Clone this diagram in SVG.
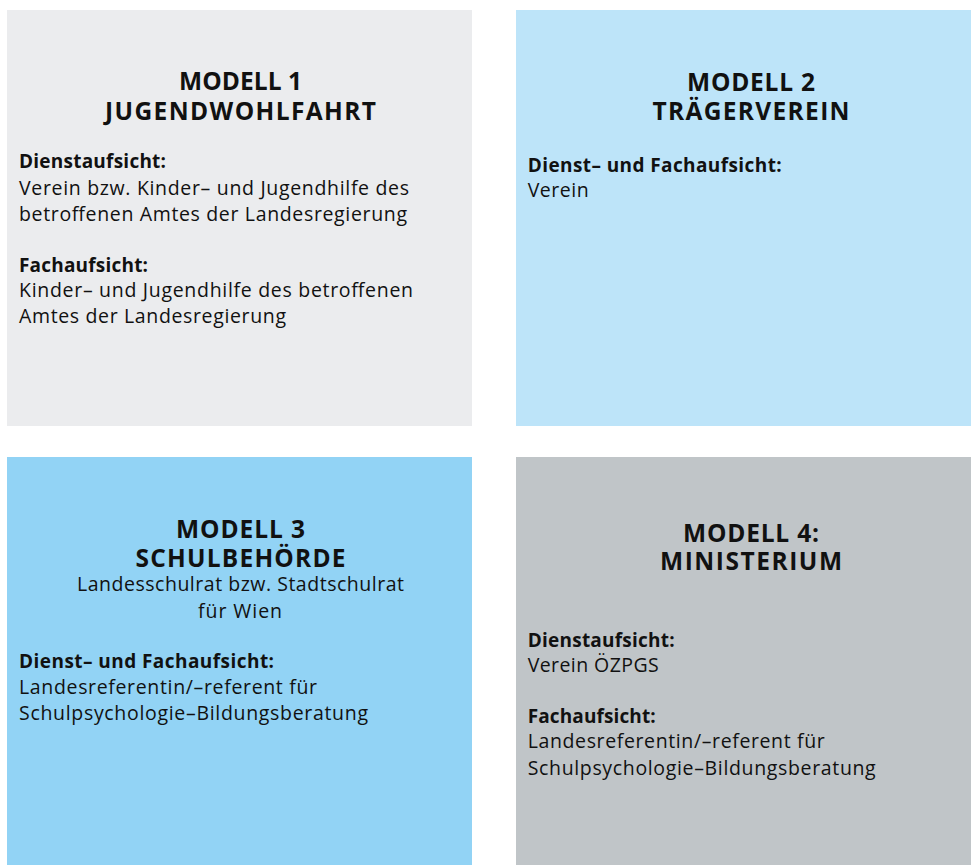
<svg xmlns="http://www.w3.org/2000/svg" width="971" height="865" viewBox="0 0 971 865">
<style>
.t{font-family:"Open Sans","Liberation Sans",sans-serif;font-weight:700;font-size:24.5px;fill:#111;text-anchor:middle}
.b{font-family:"Open Sans","Liberation Sans",sans-serif;font-size:19.5px;fill:#111}
.bb{font-family:"Open Sans","Liberation Sans",sans-serif;font-size:19px;font-weight:700;fill:#111}
.s{font-family:"Open Sans","Liberation Sans",sans-serif;font-size:19.5px;fill:#111;text-anchor:middle}
</style>
<rect width="971" height="865" fill="#ffffff"/>
<g id="modell1">
<rect x="7" y="10" width="465" height="416" fill="#EBECEE"/>
<text class="t" x="240.5" y="90" textLength="123">MODELL 1</text>
<text class="t" x="240.5" y="120" textLength="271">JUGENDWOHLFAHRT</text>
<text class="bb" x="19" y="168" textLength="147">Dienstaufsicht:</text>
<text class="b" x="19" y="195" textLength="390">Verein bzw. Kinder– und Jugendhilfe des</text>
<text class="b" x="19" y="221" textLength="388">betroffenen Amtes der Landesregierung</text>
<text class="bb" x="19" y="272" textLength="129">Fachaufsicht:</text>
<text class="b" x="19" y="297" textLength="394">Kinder– und Jugendhilfe des betroffenen</text>
<text class="b" x="19" y="323" textLength="267">Amtes der Landesregierung</text>
</g>
<g id="modell2">
<rect x="516" y="10" width="455" height="416" fill="#BDE4F9"/>
<text class="t" x="751" y="91" textLength="128">MODELL 2</text>
<text class="t" x="751" y="120" textLength="197">TRÄGERVEREIN</text>
<text class="bb" x="527.7" y="172" textLength="254">Dienst– und Fachaufsicht:</text>
<text class="b" x="527.7" y="197" textLength="61">Verein</text>
</g>
<g id="modell3">
<rect x="7" y="457" width="465" height="408" fill="#92D3F5"/>
<text class="t" x="240.5" y="538" textLength="129">MODELL 3</text>
<text class="t" x="240.5" y="567" textLength="210">SCHULBEHÖRDE</text>
<text class="s" x="240.5" y="591" textLength="327">Landesschulrat bzw. Stadtschulrat</text>
<text class="s" x="240" y="618" textLength="84">für Wien</text>
<text class="bb" x="19" y="668" textLength="255">Dienst– und Fachaufsicht:</text>
<text class="b" x="19" y="694" textLength="298">Landesreferentin/–referent für</text>
<text class="b" x="19" y="720" textLength="349">Schulpsychologie–Bildungsberatung</text>
</g>
<g id="modell4">
<rect x="516" y="457" width="455" height="408" fill="#C0C5C8"/>
<text class="t" x="751" y="542" textLength="136">MODELL 4:</text>
<text class="t" x="751" y="570" textLength="182">MINISTERIUM</text>
<text class="bb" x="527.7" y="647" textLength="147">Dienstaufsicht:</text>
<text class="b" x="527.7" y="672" textLength="131">Verein ÖZPGS</text>
<text class="bb" x="527.7" y="723" textLength="128">Fachaufsicht:</text>
<text class="b" x="527.7" y="748" textLength="297">Landesreferentin/–referent für</text>
<text class="b" x="527.7" y="775" textLength="348">Schulpsychologie–Bildungsberatung</text>
</g>
<g id="connectors"/>
</svg>
